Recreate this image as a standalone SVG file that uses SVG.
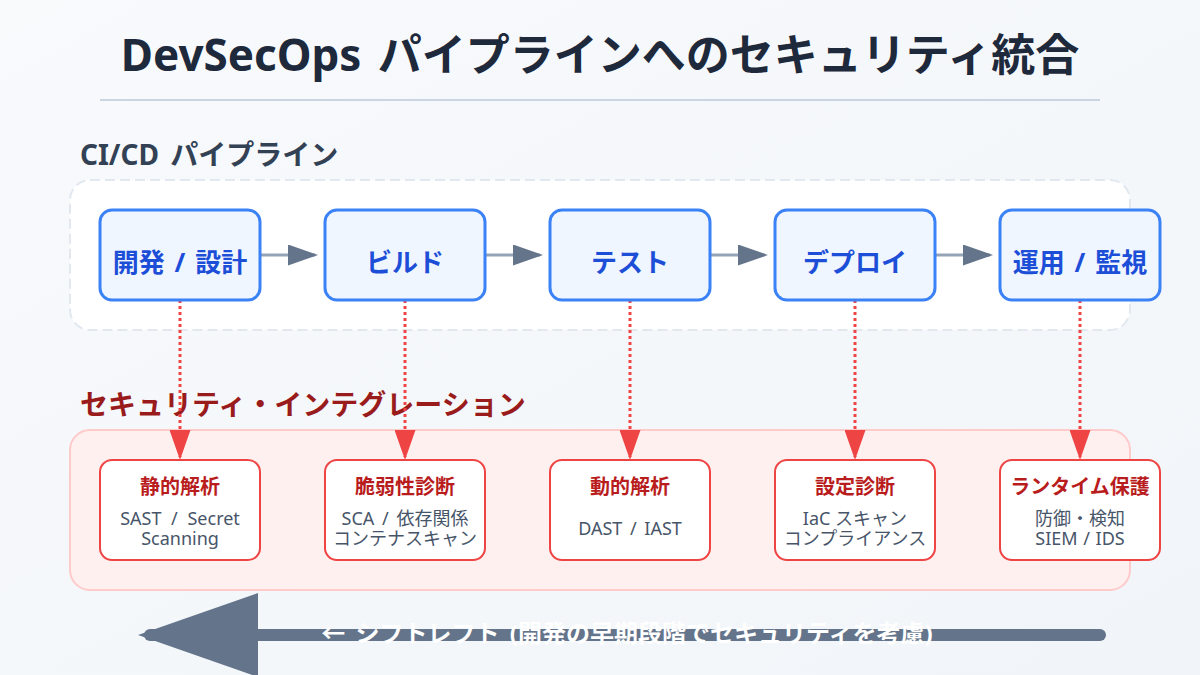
<svg xmlns="http://www.w3.org/2000/svg" width="1200" height="675" viewBox="0 0 1200 675">
<defs>
<linearGradient id="bg" x1="0" y1="0" x2="1" y2="1"><stop offset="0" stop-color="#f8fafc"/><stop offset="1" stop-color="#f1f5f9"/></linearGradient>
<marker id="ag" markerWidth="10" markerHeight="7" refX="9" refY="3.5" orient="auto"><polygon points="0 0,10 3.5,0 7" fill="#64748b"/></marker>
<marker id="ar" markerWidth="10" markerHeight="7" refX="9" refY="3.5" orient="auto"><polygon points="0 0,10 3.5,0 7" fill="#ef4444"/></marker>
</defs>
<style>
text{font-family:"Noto Sans","Noto Sans CJK JP",sans-serif}
.t{text-anchor:middle}
.n{fill:#eff6ff;stroke:#3b82f6;stroke-width:3}
.nt{font-size:26px;font-weight:700;fill:#1d4ed8;word-spacing:3px}
.s{fill:#fff;stroke:#ef4444;stroke-width:2}
.st{font-size:20px;font-weight:700;fill:#b91c1c}
.sd{font-size:18px;fill:#475569;word-spacing:3px}
.flow{stroke:#94a3b8;stroke-width:3;fill:none;marker-end:url(#ag)}
.sec{stroke:#ef4444;stroke-width:3;stroke-dasharray:3 3;fill:none;marker-end:url(#ar)}
</style>
<rect width="1200" height="675" fill="url(#bg)"/>
<text x="600" y="71" class="t" font-size="44" font-weight="700" fill="#1e293b" word-spacing="5">DevSecOps パイプラインへのセキュリティ統合</text>
<line x1="100" y1="100" x2="1100" y2="100" stroke="#cbd5e1" stroke-width="2"/>
<text x="80" y="165" font-size="28" font-weight="700" fill="#334155" word-spacing="4">CI/CD パイプライン</text>
<rect x="70" y="180" width="1060" height="150" rx="20" fill="#fff" stroke="#e2e8f0" stroke-width="2" stroke-dasharray="10 5"/>
<text x="80" y="415" font-size="28" font-weight="700" fill="#991b1b">セキュリティ・インテグレーション</text>
<rect x="70" y="430" width="1060" height="160" rx="20" fill="#fff0f0" stroke="#fecaca" stroke-width="2"/>
<g id="connectors">
<line class="flow" x1="260" y1="255" x2="315" y2="255"/>
<line class="flow" x1="485" y1="255" x2="540" y2="255"/>
<line class="flow" x1="710" y1="255" x2="765" y2="255"/>
<line class="flow" x1="935" y1="255" x2="990" y2="255"/>
<line class="sec" x1="180" y1="300" x2="180" y2="457"/>
<line class="sec" x1="405" y1="300" x2="405" y2="457"/>
<line class="sec" x1="630" y1="300" x2="630" y2="457"/>
<line class="sec" x1="855" y1="300" x2="855" y2="457"/>
<line class="sec" x1="1080" y1="300" x2="1080" y2="457"/>
</g>
<g id="node-dev"><rect class="n" x="100" y="210" width="160" height="90" rx="12"/><text class="t nt" x="180" y="272">開発 / 設計</text></g>
<g id="node-build"><rect class="n" x="325" y="210" width="160" height="90" rx="12"/><text class="t nt" x="405" y="272">ビルド</text></g>
<g id="node-test"><rect class="n" x="550" y="210" width="160" height="90" rx="12"/><text class="t nt" x="630" y="272">テスト</text></g>
<g id="node-deploy"><rect class="n" x="775" y="210" width="160" height="90" rx="12"/><text class="t nt" x="855" y="272">デプロイ</text></g>
<g id="node-ops"><rect class="n" x="1000" y="210" width="160" height="90" rx="12"/><text class="t nt" x="1080" y="272">運用 / 監視</text></g>
<g id="sec-sast"><rect class="s" x="100" y="460" width="160" height="100" rx="12"/><text class="t st" x="180" y="494">静的解析</text><text class="t sd" x="180" y="525" word-spacing="5" style="word-spacing:5px">SAST / Secret</text><text class="t sd" x="180" y="545">Scanning</text></g>
<g id="sec-sca"><rect class="s" x="325" y="460" width="160" height="100" rx="12"/><text class="t st" x="405" y="494">脆弱性診断</text><text class="t sd" x="405" y="525">SCA / 依存関係</text><text class="t sd" x="405" y="545">コンテナスキャン</text></g>
<g id="sec-dast"><rect class="s" x="550" y="460" width="160" height="100" rx="12"/><text class="t st" x="630" y="494">動的解析</text><text class="t sd" x="630" y="535">DAST / IAST</text></g>
<g id="sec-iac"><rect class="s" x="775" y="460" width="160" height="100" rx="12"/><text class="t st" x="855" y="494">設定診断</text><text class="t sd" x="855" y="525" style="word-spacing:0">IaC スキャン</text><text class="t sd" x="855" y="545">コンプライアンス</text></g>
<g id="sec-runtime"><rect class="s" x="1000" y="460" width="160" height="100" rx="12"/><text class="t st" x="1080" y="494">ランタイム保護</text><text class="t sd" x="1080" y="525">防御・検知</text><text class="t sd" x="1080" y="545" style="word-spacing:1px">SIEM / IDS</text></g>
<line x1="1100" y1="635" x2="150" y2="635" stroke="#64748b" stroke-width="12" stroke-linecap="round" marker-end="url(#ag)"/>
<text x="627" y="642" class="t" font-size="24" font-weight="700" fill="#fff" word-spacing="4">← シフトレフト (開発の早期段階でセキュリティを考慮)</text>
</svg>
